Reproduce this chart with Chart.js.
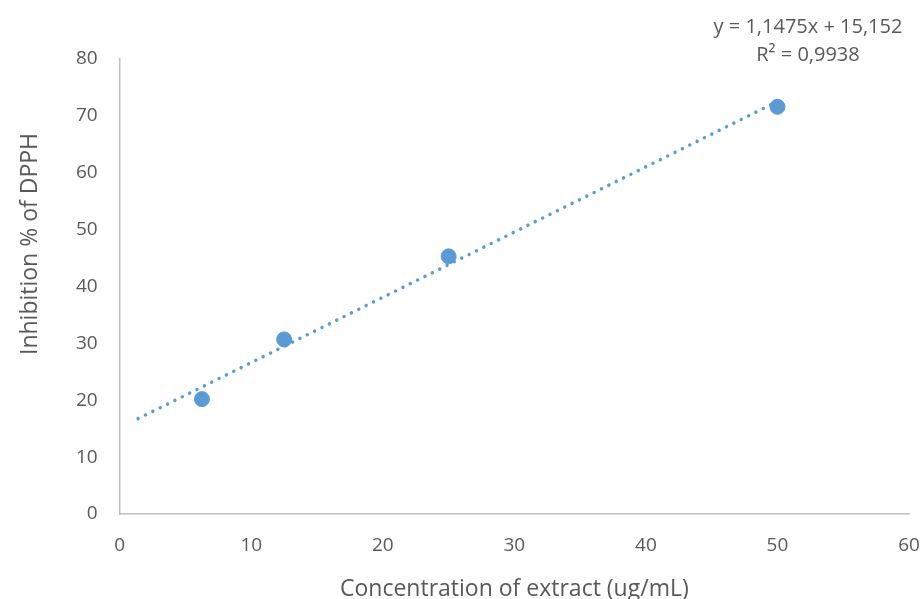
<!DOCTYPE html>
<html>
<head>
<meta charset="utf-8">
<script src="https://cdn.jsdelivr.net/npm/chart.js@4"></script>
<style>
  html, body { margin: 0; padding: 0; background: #ffffff; }
  #wrap { width: 923px; height: 599px; }
</style>
</head>
<body>
<div id="wrap"><canvas id="c" width="923" height="599"></canvas></div>
<script>
// Data
const concentrations = [6.25, 12.5, 25, 50];
const inhibition = [20.2, 30.7, 45.3, 71.6];
const trendSlope = 1.1475;
const trendIntercept = 15.152;
const trendRange = [1.4, 50];
const equationLines = ['y = 1,1475x + 15,152', 'R² = 0,9938'];
const xTitle = 'Concentration of extract (ug/mL)';
const yTitle = 'Inhibition % of DPPH';

const FONT = "'Open Sans', 'Noto Sans', sans-serif";
const TXT = '#595959';
const BLUE = '#5b9bd5';

const points = concentrations.map((x, i) => ({ x: x, y: inhibition[i] }));
const trend = trendRange.map(x => ({ x: x, y: trendSlope * x + trendIntercept }));

const textPlugin = {
  id: 'texts',
  afterDraw(chart) {
    const ctx = chart.ctx;
    ctx.save();
    ctx.fillStyle = TXT;
    ctx.font = "20px " + FONT;
    ctx.textAlign = 'center';
    ctx.textBaseline = 'middle';
    ctx.fillText(equationLines[0], 808, 27);
    ctx.fillText(equationLines[1], 808, 55);
    // y axis title
    ctx.font = "23px " + FONT;
    ctx.translate(30, 244);
    ctx.rotate(-Math.PI / 2);
    ctx.fillText(yTitle, 0, 0);
    ctx.restore();
  }
};

new Chart(document.getElementById('c'), {
  type: 'scatter',
  data: {
    datasets: [
      {
        label: 'Trend',
        data: trend,
        showLine: true,
        borderColor: BLUE,
        borderWidth: 3.5,
        borderDash: [0.01, 8.2],
        borderCapStyle: 'round',
        pointRadius: 0,
        pointHoverRadius: 0,
        fill: false,
        order: 2
      },
      {
        label: 'Inhibition',
        data: points,
        backgroundColor: BLUE,
        borderColor: BLUE,
        pointRadius: 7.5,
        pointHoverRadius: 7.5,
        order: 1
      }
    ]
  },
  options: {
    responsive: false,
    animation: false,
    layout: { padding: { top: 59, right: 0, left: 54, bottom: -2 } },
    plugins: {
      legend: { display: false },
      tooltip: { enabled: false }
    },
    scales: {
      x: {
        type: 'linear',
        min: 0, max: 60,
        afterFit(scale) { scale.paddingRight = 14; },
        ticks: { stepSize: 10, color: TXT, font: { family: FONT, size: 19, lineHeight: 1 }, padding: 22.5 },
        grid: { display: false, drawTicks: false },
        border: { color: '#bfbfbf', width: 1.5 },
        title: { display: true, text: xTitle, color: TXT, font: { family: FONT, size: 23, lineHeight: 1 }, padding: { top: 0, bottom: 0 } }
      },
      y: {
        type: 'linear',
        min: 0, max: 80,
        ticks: { stepSize: 10, color: TXT, font: { family: FONT, size: 19 }, padding: 22 },
        grid: { display: false, drawTicks: false },
        border: { color: '#bfbfbf', width: 1.5 }
      }
    }
  },
  plugins: [textPlugin]
});
</script>
</body>
</html>
